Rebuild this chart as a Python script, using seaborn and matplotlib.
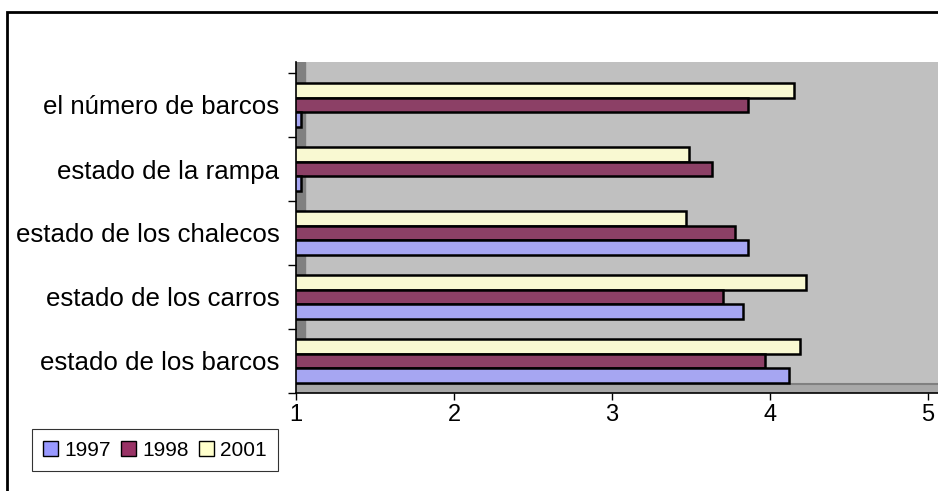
import matplotlib
matplotlib.use("Agg")
import matplotlib.pyplot as plt
from matplotlib.patches import Rectangle, Patch
import seaborn as sns
import pandas as pd

# data
categorias = ["el número de barcos", "estado de la rampa", "estado de los chalecos",
              "estado de los carros", "estado de los barcos"]
v1997 = [1.03, 1.03, 3.86, 3.83, 4.12]
v1998 = [3.86, 3.63, 3.78, 3.70, 3.97]
v2001 = [4.15, 3.49, 3.47, 4.23, 4.19]
anios = ["1997", "1998", "2001"]
colores = {"1997": "#9999FF", "1998": "#993366", "2001": "#FFFFCC"}

df = pd.DataFrame({
    "categoria": categorias * 3,
    "valor": v1997 + v1998 + v2001,
    "anio": ["1997"] * 5 + ["1998"] * 5 + ["2001"] * 5,
})

sns.set_style("white")
plt.rcParams["font.family"] = ["Liberation Sans", "DejaVu Sans"]
plt.rcParams["text.color"] = "black"
plt.rcParams["xtick.color"] = "black"
plt.rcParams["ytick.color"] = "black"

fig = plt.figure(figsize=(9.38, 4.91), dpi=100)
# plot area: left at x=296 px, runs to the right edge; top of wall 62 px, floor at 393 px
ax = fig.add_axes([296 / 938, 1 - 393 / 491, (938 - 296) / 938, (393 - 62) / 491])
ax.set_facecolor("#C0C0C0")

# fake 3D side wall and floor
ax.axvspan(1, 1.057, color="#808080", zorder=0)
ax.axhspan(4.5, 4.36, color="#A8A8A8", zorder=0)
ax.axhline(4.36, color="#808080", linewidth=1.5, zorder=0)

sns.barplot(data=df, y="categoria", x="valor", hue="anio",
            order=categorias, hue_order=["2001", "1998", "1997"],
            palette=colores, orient="h", width=0.7,
            edgecolor="black", linewidth=1.8, legend=False, ax=ax)

ax.set_xlim(1, 1 + 642 / 158)
ax.set_ylim(4.5, -0.5 - 11 / 64)
ax.set_xticks([1, 2, 3, 4, 5])
ax.tick_params(axis="x", labelsize=17, length=5, width=1, direction="out",
               bottom=True, colors="black", pad=3)
ax.tick_params(axis="y", which="major", labelsize=18.6, length=0, pad=12, colors="black")
ax.set_yticks([-0.5, 0.5, 1.5, 2.5, 3.5, 4.5], minor=True)
ax.tick_params(axis="y", which="minor", length=6, width=1, left=True, color="black")
ax.set_xlabel("")
ax.set_ylabel("")
for s in ["top", "right"]:
    ax.spines[s].set_visible(False)
ax.spines["left"].set_color("black")
ax.spines["bottom"].set_color("black")
ax.spines["left"].set_linewidth(1.2)
ax.spines["bottom"].set_linewidth(1.2)

# legend
handles = [Patch(facecolor=colores[a], edgecolor="black", label=a) for a in anios]
leg = fig.legend(handles=handles, loc="lower left", bbox_to_anchor=(32 / 938, 1 - 471 / 491),
                 ncol=3, fontsize=15, frameon=True, fancybox=False, borderaxespad=0,
                 handlelength=0.7, handleheight=0.7, handletextpad=0.3, columnspacing=0.5,
                 borderpad=0.55, labelcolor="black")
leg.get_frame().set_edgecolor("black")
leg.get_frame().set_linewidth(0.8)

# outer chart border (open on the right and bottom, as in the reference)
fig.patches.append(Rectangle((7 / 938, -0.05), 1.1, 1.05 - 12 / 491,
                             transform=fig.transFigure, fill=False,
                             edgecolor="black", linewidth=2))

fig.savefig("out.png", dpi=100)
